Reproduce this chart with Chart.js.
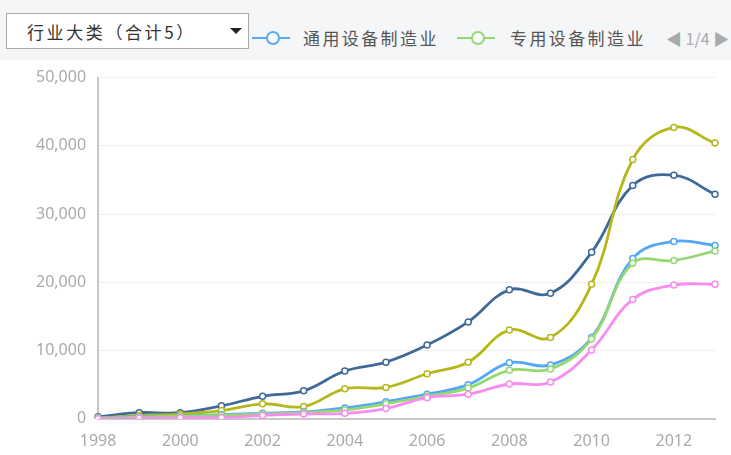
<!DOCTYPE html>
<html>
<head>
<meta charset="utf-8">
<script src="https://cdn.jsdelivr.net/npm/chart.js@4"></script>
<style>
  body { margin: 0; width: 731px; height: 455px; overflow: hidden; background: #fff; font-family: "Noto Sans CJK SC", "Noto Sans", sans-serif; }
  #bar { position: absolute; left: 0; top: 0; width: 731px; height: 60px; background: #f5f6f8; }
  #sel { position: absolute; left: 6px; top: 13px; width: 241px; height: 34px; background: #fff; border: 1px solid #a9a9a9; }
  #sel span { position: absolute; left: 20px; top: 5px; font-size: 17px; letter-spacing: 2.6px; color: #333; white-space: nowrap; }
  #sel i { position: absolute; left: 223px; top: 14px; width: 0; height: 0; border-left: 6px solid transparent; border-right: 6px solid transparent; border-top: 6px solid #222; }
  .leg { position: absolute; top: 30px; height: 16px; }
  .leg .ln { position: absolute; top: 7px; width: 38px; height: 2px; }
  .leg .dot { position: absolute; left: 14px; top: 1px; width: 10px; height: 10px; border-radius: 50%; background: #fff; border: 2px solid; }
  .txt { position: absolute; top: 25px; font-size: 17px; letter-spacing: 2.4px; color: #555; white-space: nowrap; }
  #pg { position: absolute; left: 666px; top: 26px; font-size: 16px; color: #aaa; white-space: nowrap; }
  #wrap { position: absolute; left: 0; top: 56px; width: 731px; height: 408px; }
</style>
</head>
<body>
<div id="bar">
  <div id="sel"><span>行业大类（合计5）</span><i></i></div>
  <div class="leg" style="left:252px"><div class="ln" style="background:#5aa9f5"></div><div class="dot" style="border-color:#5aa9f5"></div></div>
  <div class="txt" style="left:303px">通用设备制造业</div>
  <div class="leg" style="left:457px"><div class="ln" style="background:#95d872"></div><div class="dot" style="border-color:#95d872"></div></div>
  <div class="txt" style="left:510px">专用设备制造业</div>
  <div id="pg">◀&nbsp;1/4&nbsp;▶</div>
</div>
<div id="wrap"><canvas id="grafico"></canvas></div>
<script>
// años y valores por rubro
const anios = ['1998','1999','2000','2001','2002','2003','2004','2005','2006','2007','2008','2009','2010','2011','2012','2013'];
const tickY = [0, 10000, 20000, 30000, 40000, 50000];

const serieAzulOscuro = [300, 900, 900, 1900, 3300, 4100, 7000, 8300, 10800, 14200, 18900, 18400, 24400, 34200, 35700, 32900];
const serieOliva = [100, 500, 700, 1200, 2200, 1800, 4400, 4600, 6600, 8300, 13000, 11900, 19700, 38000, 42700, 40400];
const serieTongyong = [100, 300, 400, 600, 800, 1000, 1600, 2500, 3600, 5000, 8200, 7900, 11900, 23500, 26000, 25400];
const serieZhuanyong = [100, 250, 350, 500, 700, 900, 1300, 2200, 3300, 4500, 7100, 7300, 11700, 22800, 23200, 24600];
const serieRosa = [0, 100, 150, 200, 500, 700, 800, 1500, 3100, 3600, 5100, 5400, 10100, 17500, 19600, 19700];

const nombres = ['行业A', '行业B', '通用设备制造业', '专用设备制造业', '行业E'];
const colores = ['#3f6a98', '#b6b71a', '#52a8f7', '#95d872', '#f78cf1'];

const series = [serieRosa, serieZhuanyong, serieTongyong, serieOliva, serieAzulOscuro];
const orden = [4, 3, 2, 1, 0];

const ctx = document.getElementById('grafico').getContext('2d');
const myChart = new Chart(ctx, {
    type: 'line',
    data: {
        labels: anios,
        datasets: series.map((s, i) => ({
            label: nombres[orden[i]],
            data: s,
            borderColor: colores[orden[i]],
            backgroundColor: '#fff',
            pointBackgroundColor: '#fff',
            pointBorderColor: colores[orden[i]],
            pointRadius: 3,
            pointBorderWidth: 1.5,
            borderWidth: 2.8,
            tension: 0.4,
            fill: false
        }))
    },
    options: {
        responsive: true,
        maintainAspectRatio: false,
        animation: false,
        locale: 'en-US',
        layout: { padding: { left: 24, right: 16, top: 0, bottom: 0 } },
        plugins: { legend: { display: false }, tooltip: { enabled: false } },
        scales: {
            x: {
                grid: { display: false, drawTicks: false },
                border: { color: '#c8c8c8', width: 2 },
                ticks: {
                    autoSkip: false, maxRotation: 0, padding: 13,
                    color: '#aaa', font: { size: 16, family: 'Noto Sans' },
                    callback: (v, i) => i % 2 === 0 ? anios[i] : ''
                }
            },
            y: {
                min: 0, max: 50000,
                afterBuildTicks: (axis) => { axis.ticks = tickY.map(v => ({ value: v })) },
                grid: { color: '#efefef', drawTicks: false },
                border: { color: '#c8c8c8', width: 2 },
                ticks: { padding: 12, color: '#aaa', font: { size: 16, family: 'Noto Sans' } }
            }
        }
    }
});
</script>
</body>
</html>
